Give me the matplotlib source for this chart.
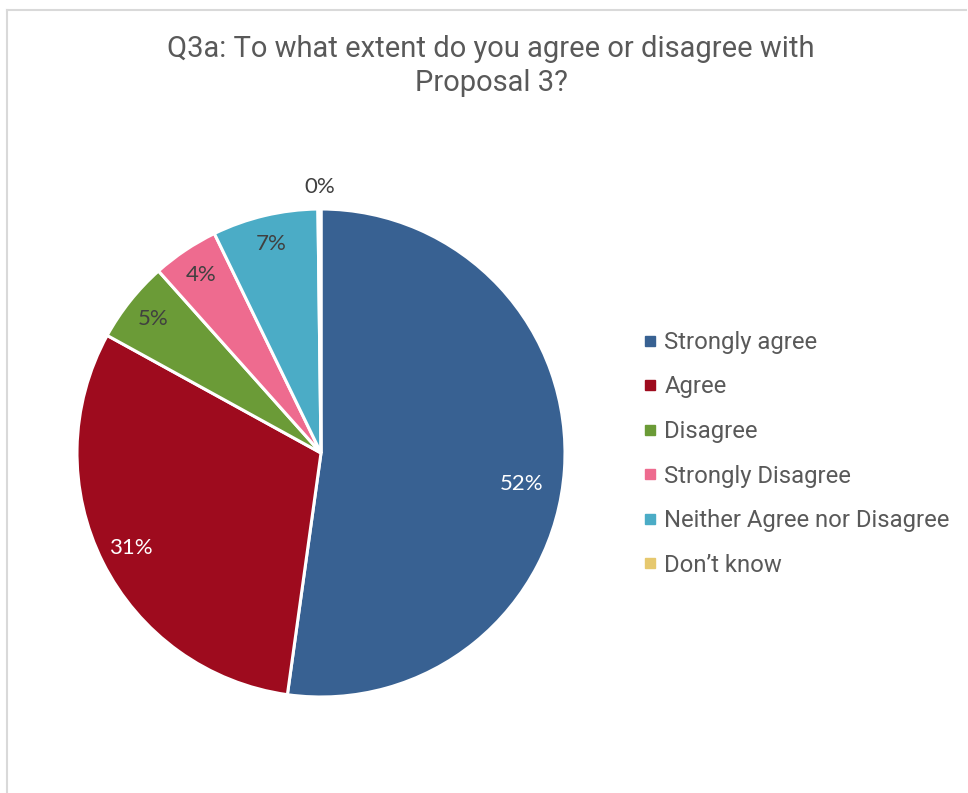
import matplotlib
matplotlib.use("Agg")
import matplotlib.pyplot as plt
from matplotlib.lines import Line2D
import numpy as np

categories = ["Strongly agree", "Agree", "Disagree", "Strongly Disagree",
              "Neither Agree nor Disagree", "Don\u2019t know"]
shares = [52.2, 30.8, 5.4, 4.4, 7.0, 0.2]
colors = ["#386192", "#9E0B1E", "#6B9B37", "#EE6B8F", "#4BACC6", "#E6C86E"]
label_colors = ["white", "white", "#404040", "#404040", "#404040", "#404040"]
title = "Q3a: To what extent do you agree or disagree with\nProposal 3?"

W, H = 968, 793
fig = plt.figure(figsize=(W / 100, H / 100), dpi=100)
fig.patch.set_facecolor("white")

# light frame along the top and left edges of the chart area
fig.add_artist(Line2D([6.5 / W, 966 / W], [1 - 9.5 / H, 1 - 9.5 / H],
                      transform=fig.transFigure, color="#D9D9D9", lw=1.5))
fig.add_artist(Line2D([6.5 / W, 6.5 / W], [0, 1 - 9.5 / H],
                      transform=fig.transFigure, color="#D9D9D9", lw=1.5))

fig.text(491 / W, 1 - 35 / H, title, ha="center", va="top",
         fontsize=21, family="Roboto", color="#595959", linespacing=1.27)

cx, cy, R = 321, 453, 244
ax = fig.add_axes([(cx - R) / W, (H - cy - R) / H, 2 * R / W, 2 * R / H])

wedges, _ = ax.pie(shares, colors=colors, startangle=90, counterclock=False,
                   radius=1, wedgeprops=dict(edgecolor="white", linewidth=2.2))
ax.set_xlim(-1, 1)
ax.set_ylim(-1, 1)
ax.set_aspect("equal")
ax.axis("off")

# data labels: radial distance and small angular nudge per slice
total = sum(shares)
label_r = [0.83, 0.87, 0.88, 0.88, 0.88, 1.09]
label_nudge = [-4.8, 0, 0, 0, 0, 0]
for w, v, tc, r, d in zip(wedges, shares, label_colors, label_r, label_nudge):
    ang = np.deg2rad((w.theta1 + w.theta2) / 2 + d)
    x, y = r * np.cos(ang), r * np.sin(ang)
    ax.text(x, y, f"{v / total * 100:.0f}%", ha="center", va="center",
            fontsize=16, family="Lato", color=tc, clip_on=False)

handles = [Line2D([], [], marker="s", linestyle="none", markersize=7,
                  markerfacecolor=c, markeredgecolor=c) for c in colors]
fig.legend(handles, categories, loc="upper left",
           bbox_to_anchor=(643 / W, 1 - 331 / H), frameon=False,
           prop=dict(family="Roboto", size=17.2), labelcolor="#595959",
           handlelength=0.6, handletextpad=0.3, labelspacing=0.9,
           borderaxespad=0, borderpad=0)

fig.savefig("out.png", dpi=100, facecolor="white")
